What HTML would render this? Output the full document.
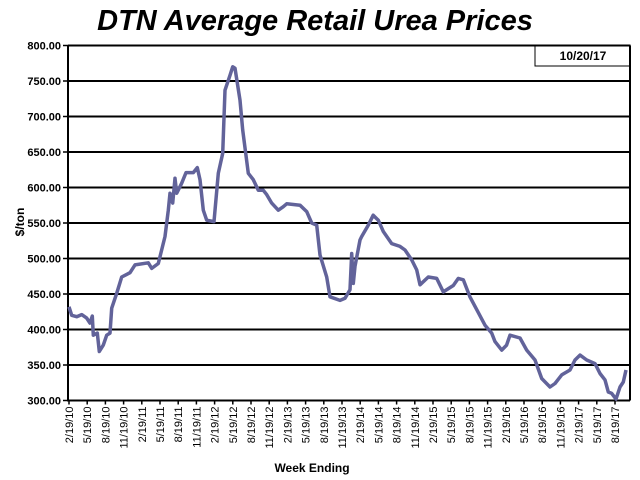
<!DOCTYPE html>
<html><head><meta charset="utf-8"><style>
body{margin:0;background:#fff}
svg{display:block;font-family:"Liberation Sans",sans-serif}
</style></head><body>
<svg id="chart" width="640" height="480">
<text x="315" y="30" text-anchor="middle" font-size="29" font-weight="bold" font-style="italic">DTN Average Retail Urea Prices</text>
<rect x="535" y="45" width="95" height="21" fill="#fff" stroke="#000" stroke-width="1"/>
<text x="583" y="60" text-anchor="middle" font-size="12" font-weight="bold">10/20/17</text>
<text transform="translate(24,222) rotate(-90)" text-anchor="middle" font-size="12" font-weight="bold">$/ton</text>
<text x="312" y="472" text-anchor="middle" font-size="12" font-weight="bold">Week Ending</text>
<g id="grid"></g><g id="xt"></g><path id="line" fill="none" stroke="#62639a" stroke-width="3.5" stroke-linejoin="round"/>
</svg>
<script>
const yTicks=[300,350,400,450,500,550,600,650,700,750,800];
const xLabels=["2/19/10","5/19/10","8/19/10","11/19/10","2/19/11","5/19/11","8/19/11","11/19/11","2/19/12","5/19/12","8/19/12","11/19/12","2/19/13","5/19/13","8/19/13","11/19/13","2/19/14","5/19/14","8/19/14","11/19/14","2/19/15","5/19/15","8/19/15","11/19/15","2/19/16","5/19/16","8/19/16","11/19/16","2/19/17","5/19/17","8/19/17"];
const months=[0,.45,1.27,2.09,2.92,3.46,3.84,4.0,4.66,4.99,5.65,6.21,6.76,7.04,7.86,8.69,10.05,10.88,13.07,13.63,14.72,15.82,16.37,16.65,17.09,17.47,17.75,18.58,19.28,20.49,21.15,21.59,22.14,22.7,23.9,24.61,25.33,25.71,26.54,26.98,27.36,28.19,28.63,29.55,30.38,31.2,32.03,32.59,33.41,34.5,35.32,35.88,38.07,39.18,40,40.83,41.37,42.48,43.02,44.67,45.49,46.32,46.6,46.86,47.14,47.96,48.24,49.33,50.15,50.98,51.8,53.19,54.56,55.38,56.49,57.31,57.85,59.22,60.61,61.69,63.34,64.17,64.99,66.09,67.2,68.57,69.67,70.22,71.32,72.14,72.69,74.34,75.44,76.81,77.91,79.28,80.11,81.21,82.58,83.4,84.23,85.33,86.7,87.52,88.35,88.89,89.45,90.16,90.82,91.37,91.81];
const prices=[432,420,418,421,416,409,419,392,395,369,378,392,395,430,451,474,480,491,494,486,493,531,568,592,578,613,592,606,621,621,628,611,568,554,552,620,648,737,758,770,768,723,681,620,611,596,596,590,578,568,573,577,575,566,550,547,505,474,446,441,444,456,507,465,489,526,531,547,561,554,538,521,517,512,498,484,463,474,472,453,462,472,470,446,428,406,395,383,371,378,392,388,371,357,331,319,324,336,343,357,364,357,352,338,329,312,310,302,319,326,343];
const NS="http://www.w3.org/2000/svg";
const L=68,R=630,T=45.5,B=400.5;
const y=v=>B-(v-300)/500*(B-T);
const x=m=>69+m*18.2/3;
function mk(t,a,p){const e=document.createElementNS(NS,t);for(const k in a)e.setAttribute(k,a[k]);p.appendChild(e);return e;}
const g=document.getElementById('grid');
yTicks.forEach(v=>{
 const ln=mk('line',{x1:L,x2:R,y1:y(v),y2:y(v),stroke:'#000','stroke-width':2},g);
 
 
 const tk=mk('line',{x1:L-5,x2:L,y1:y(v),y2:y(v),stroke:'#000','stroke-width':1.5},g);
 
 
 const t=mk('text',{x:L-7,y:y(v)+4,'text-anchor':'end','font-size':11,'font-weight':'bold'},g);
 t.textContent=v.toFixed(2);
 
 
});
const ax=mk('line',{x1:L,x2:L,y1:T,y2:B+1,stroke:'#000','stroke-width':2},g);


const rb=mk('line',{x1:R,x2:R,y1:T,y2:B,stroke:'#000','stroke-width':2},g);


const xt=document.getElementById('xt');
xLabels.forEach((s,i)=>{
 const px=x(i*3);
 const tk=mk('line',{x1:px,x2:px,y1:B,y2:B+4,stroke:'#000','stroke-width':1.5},xt);
 
 
 const t=mk('text',{transform:`translate(${px+4},${B+6}) rotate(-90)`,'text-anchor':'end','font-size':11},xt);
 t.textContent=s;
 
 
});
document.getElementById('line').setAttribute('d',months.map((m,i)=>(i?'L':'M')+x(m).toFixed(1)+','+y(prices[i]).toFixed(1)).join(''));
</script>
</body></html>
